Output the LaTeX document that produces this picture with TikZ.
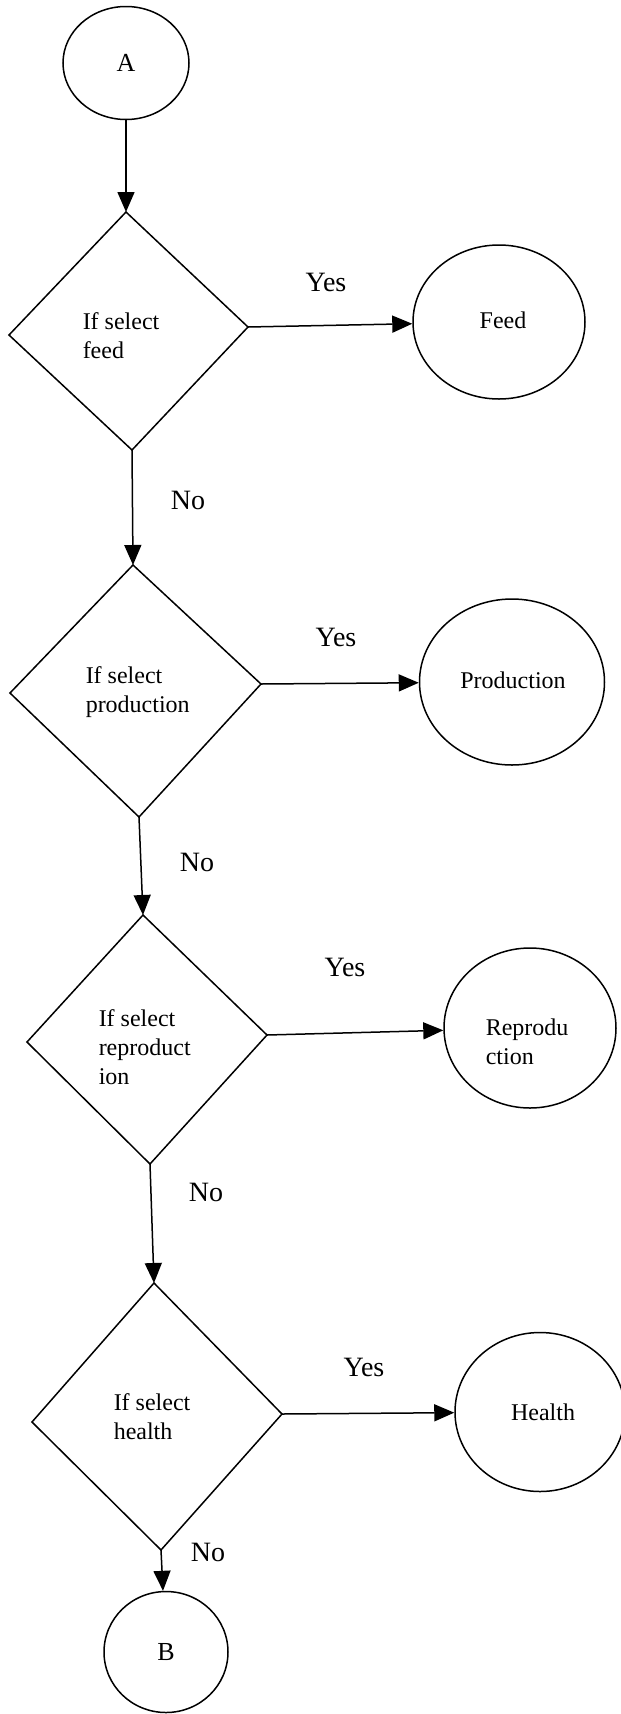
\documentclass[tikz,border=0pt]{standalone}
\usepackage{fontspec}
\setmainfont{Liberation Serif}
\usetikzlibrary{shapes.geometric,arrows.meta}
\begin{document}
\begin{tikzpicture}[x=1pt,y=-1pt,
  line width=1.5pt,
  oval/.style={draw, ellipse, inner sep=0pt, font=\fontsize{24}{29}\selectfont},
  letter/.style={draw, ellipse, inner sep=0pt, font=\fontsize{26}{30}\selectfont},
  lbl/.style={font=\fontsize{24}{29}\selectfont, inner sep=0pt, align=left, anchor=west},
  yn/.style={font=\fontsize{28}{30}\selectfont, inner sep=0pt},
  flow/.style={-{Triangle[length=20pt,width=17pt]}},
  decision/.style={draw, line join=miter}
]
\useasboundingbox (0,0) rectangle (621,1714);

% connectors A and B
\node[letter, minimum width=126pt, minimum height=113pt] (A) at (126,63) {A};
\node[letter, minimum width=124pt, minimum height=121pt] (B) at (166,1652) {B};

% decision diamonds (vertices)
\coordinate (d1t) at (126,212);  \coordinate (d1r) at (248,327);
\coordinate (d1b) at (132,450);  \coordinate (d1l) at (9,335);
\coordinate (d2t) at (133,565);  \coordinate (d2r) at (261,684);
\coordinate (d2b) at (139,817);  \coordinate (d2l) at (10,693);
\coordinate (d3t) at (143,915);  \coordinate (d3r) at (267,1035);
\coordinate (d3b) at (150,1164); \coordinate (d3l) at (27,1042);
\coordinate (d4t) at (154,1283); \coordinate (d4r) at (282,1414);
\coordinate (d4b) at (161,1550); \coordinate (d4l) at (32,1422);

\draw[decision] (d1t) -- (d1r) -- (d1b) -- (d1l) -- cycle;
\draw[decision] (d2t) -- (d2r) -- (d2b) -- (d2l) -- cycle;
\draw[decision] (d3t) -- (d3r) -- (d3b) -- (d3l) -- cycle;
\draw[decision] (d4t) -- (d4r) -- (d4b) -- (d4l) -- cycle;

\node[lbl] (q1) at (82,336) {If select\\feed};
\node[lbl] (q2) at (85,692) {If select\\production};
\node[lbl] (q3) at (98,1047) {If select\\reproduct\\ion};
\node[lbl] (q4) at (113,1417) {If select\\health};

% outcome ovals
\node[oval, minimum width=172pt, minimum height=154pt] (feed) at (499,322) {};
\node[lbl, anchor=center] (feedtxt) at (503,320) {Feed};
\node[oval, minimum width=185pt, minimum height=166pt] (prod) at (512,682) {};
\node[lbl, anchor=center] (prodtxt) at (513,680) {Production};
\node[oval, minimum width=172pt, minimum height=160pt] (repr) at (530,1028) {};
\node[lbl] (reprtxt) at (485,1042) {Reprodu\\ction};
\node[oval, minimum width=170pt, minimum height=159pt] (health) at (540,1412) {};
\node[lbl, anchor=center] (healthtxt) at (543,1412) {Health};

% flow
\draw[flow] (A) -- (d1t);
\draw[flow] (d1r) -- (feed);
\draw[flow] (d1b) -- (d2t);
\draw[flow] (d2r) -- (prod);
\draw[flow] (d2b) -- (d3t);
\draw[flow] (d3r) -- (repr);
\draw[flow] (d3b) -- (d4t);
\draw[flow] (d4r) -- (health);
\draw[flow] (d4b) -- (B);

% branch labels
\node[yn] (y1) at (326,282) {Yes};
\node[yn] (y2) at (336,637) {Yes};
\node[yn] (y3) at (345,967) {Yes};
\node[yn] (y4) at (364,1367) {Yes};
\node[yn] (n1) at (188,500) {No};
\node[yn] (n2) at (197,862) {No};
\node[yn] (n3) at (206,1192) {No};
\node[yn] (n4) at (208,1552) {No};
\end{tikzpicture}
\end{document}
